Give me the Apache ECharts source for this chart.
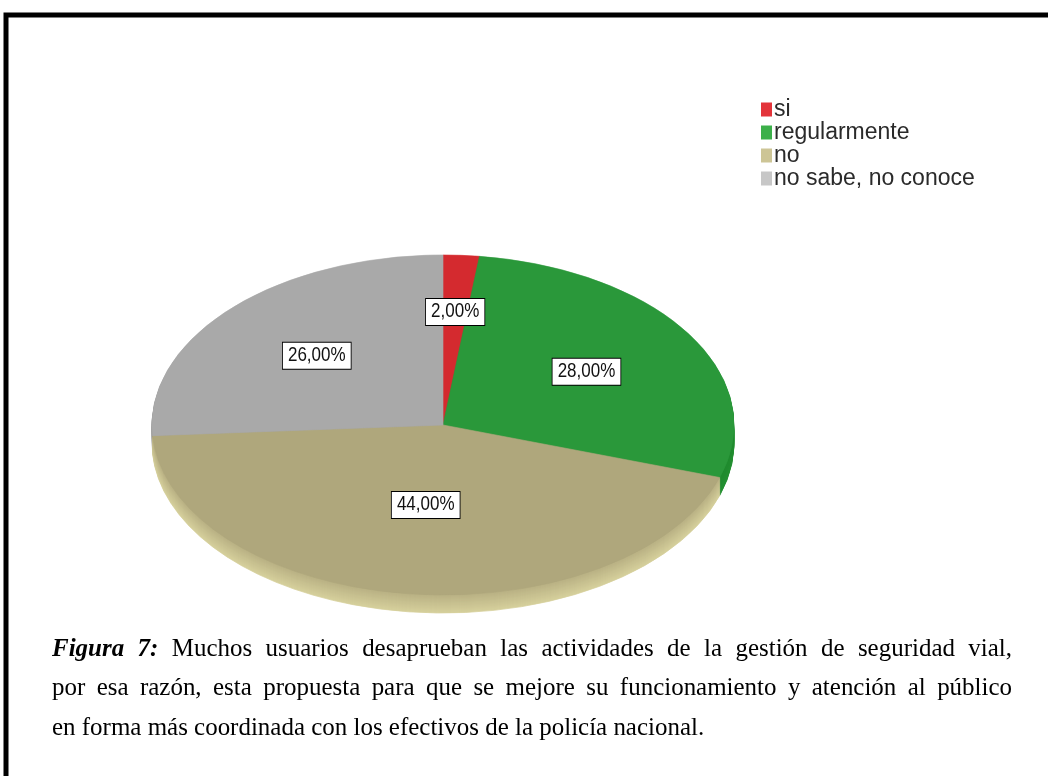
<!DOCTYPE html>
<html>
<head>
<meta charset="utf-8">
<script src="https://cdn.jsdelivr.net/npm/echarts@6/dist/echarts.min.js"></script>
<style>
  html, body { margin: 0; padding: 0; background: #fff; }
  #chart { width: 1048px; height: 776px; }
</style>
</head>
<body>
<div id="chart"></div>
<script>
// data
const categories = ['si', 'regularmente', 'no', 'no sabe, no conoce']
const percents = [2, 28, 44, 26]
const sliceLabels = ['2,00%', '28,00%', '44,00%', '26,00%']
const captionLines = [
  'Figura 7: Muchos usuarios desaprueban las actividades de la gestión de seguridad vial,',
  'por esa razón, esta propuesta para que se mejore su funcionamiento y atención al público',
  'en forma más coordinada con los efectivos de la policía nacional.'
]

// colours
const legendColors = ['#e3343a', '#3cb04a', '#cdc596', '#c7c7c7']
const topColors = ['#d42a2f', '#2a983a', '#afa77c', '#a9a9a9']
const sideColors = ['#a81e22', '#1f8a2e', '#b9b184', '#8e8e8e']
const sideLow = ['#c02a2e', '#249032', '#d6d09c', '#b4b4b4']

// pie geometry
const CX = 443, CY = 425, RX = 291, RY = 170, THICK = 18

const total = percents.reduce((a, b) => a + b, 0)

function mix(c1, c2, t) {
  const p = c => [1, 3, 5].map(i => parseInt(c.substr(i, 2), 16))
  const a = p(c1), b = p(c2)
  return 'rgb(' + a.map((v, i) => Math.round(v + (b[i] - v) * t)).join(',') + ')'
}

function renderSlice(params, api) {
  const i = params.dataIndex
  const start = percents.slice(0, i).reduce((a, b) => a + b, 0) / total
  const frac = api.value(0) / total
  const a0 = -Math.PI / 2 + start * 2 * Math.PI
  const a1 = a0 + frac * 2 * Math.PI
  const children = []
  // side (extrusion) drawn as stacked copies below the top face
  for (let d = THICK; d >= 1; d--) {
    const c = mix(sideColors[i], sideLow[i], d / THICK)
    children.push({
      type: 'sector',
      x: CX, y: CY + d, scaleY: RY / RX,
      shape: { cx: 0, cy: 0, r: RX, startAngle: a0, endAngle: a1 },
      style: { fill: c, stroke: c, lineWidth: 1 },
      z2: THICK - d
    })
  }
  children.push({
    type: 'sector',
    x: CX, y: CY, scaleY: RY / RX,
    shape: { cx: 0, cy: 0, r: RX, startAngle: a0, endAngle: a1 },
    style: { fill: topColors[i], stroke: topColors[i], lineWidth: 0.8 },
    z2: 100
  })
  // label at the slice centroid
  const h = frac * Math.PI
  const k = (2 / 3) * Math.sin(h) / h
  const am = (a0 + a1) / 2
  children.push({
    type: 'text',
    x: CX + RX * k * Math.cos(am),
    y: CY + RY * k * Math.sin(am),
    scaleX: 0.85,
    style: {
      text: sliceLabels[i],
      fontFamily: 'Liberation Sans',
      fontSize: 20,
      lineHeight: 20,
      fill: '#111',
      align: 'center',
      verticalAlign: 'middle',
      backgroundColor: '#fff',
      borderColor: '#000',
      borderWidth: 1,
      padding: [3, 6, 3, 6]
    },
    z2: 300
  })
  return { type: 'group', children: children }
}

// caption, justified like the source document
const CAP_LEFT = 52, CAP_RIGHT = 1012, CAP_Y0 = 649, CAP_LH = 39.5
const CAP_SIZE = 26, CAP_SX = 0.96
const measureCtx = document.createElement('canvas').getContext('2d')
function textWidth(str, bold) {
  measureCtx.font = (bold ? 'italic bold ' : '') + CAP_SIZE + 'px "Liberation Serif"'
  return measureCtx.measureText(str).width * CAP_SX
}
function captionElements() {
  const els = []
  captionLines.forEach((line, li) => {
    const words = line.split(' ')
    const bold = words.map((w, wi) => li === 0 && wi < 2)
    const widths = words.map((w, wi) => textWidth(w, bold[wi]))
    const sum = widths.reduce((a, b) => a + b, 0)
    const last = li === captionLines.length - 1
    const gap = last ? textWidth(' ', false) : (CAP_RIGHT - CAP_LEFT - sum) / (words.length - 1)
    let x = CAP_LEFT
    words.forEach((w, wi) => {
      els.push({
        type: 'text',
        x: x, y: CAP_Y0 + li * CAP_LH,
        scaleX: CAP_SX,
        style: {
          text: w,
          fontFamily: 'Liberation Serif',
          fontSize: CAP_SIZE,
          fontWeight: bold[wi] ? 'bold' : 'normal',
          fontStyle: bold[wi] ? 'italic' : 'normal',
          fill: '#000',
          verticalAlign: 'middle'
        }
      })
      x += widths[wi] + gap
    })
  })
  return els
}

const chart = echarts.init(document.getElementById('chart'))
chart.setOption({
  backgroundColor: '#fff',
  animation: false,
  legend: {
    orient: 'vertical',
    left: 761,
    top: 98,
    padding: 0,
    itemWidth: 11,
    itemHeight: 14,
    itemGap: 0,
    icon: 'rect',
    selectedMode: false,
    textStyle: {
      fontFamily: 'Liberation Sans',
      fontSize: 23,
      lineHeight: 23,
      color: '#2a2a2a',
      padding: [0, 0, 0, -3]
    },
    data: categories
  },
  graphic: [
    {
      type: 'rect',
      shape: { x: 6, y: 15, width: 1200, height: 900 },
      style: { fill: 'none', stroke: '#000', lineWidth: 5 }
    }
  ].concat(captionElements()),
  series: [
    {
      // invisible pie only feeds the legend its items and colours
      type: 'pie',
      radius: [0, 0],
      silent: true,
      label: { show: false },
      data: categories.map((name, i) => ({
        name: name,
        value: percents[i],
        itemStyle: { color: legendColors[i] }
      }))
    },
    {
      type: 'custom',
      coordinateSystem: 'none',
      renderItem: renderSlice,
      silent: true,
      data: percents.map(v => [v])
    }
  ]
})
</script>
</body>
</html>
